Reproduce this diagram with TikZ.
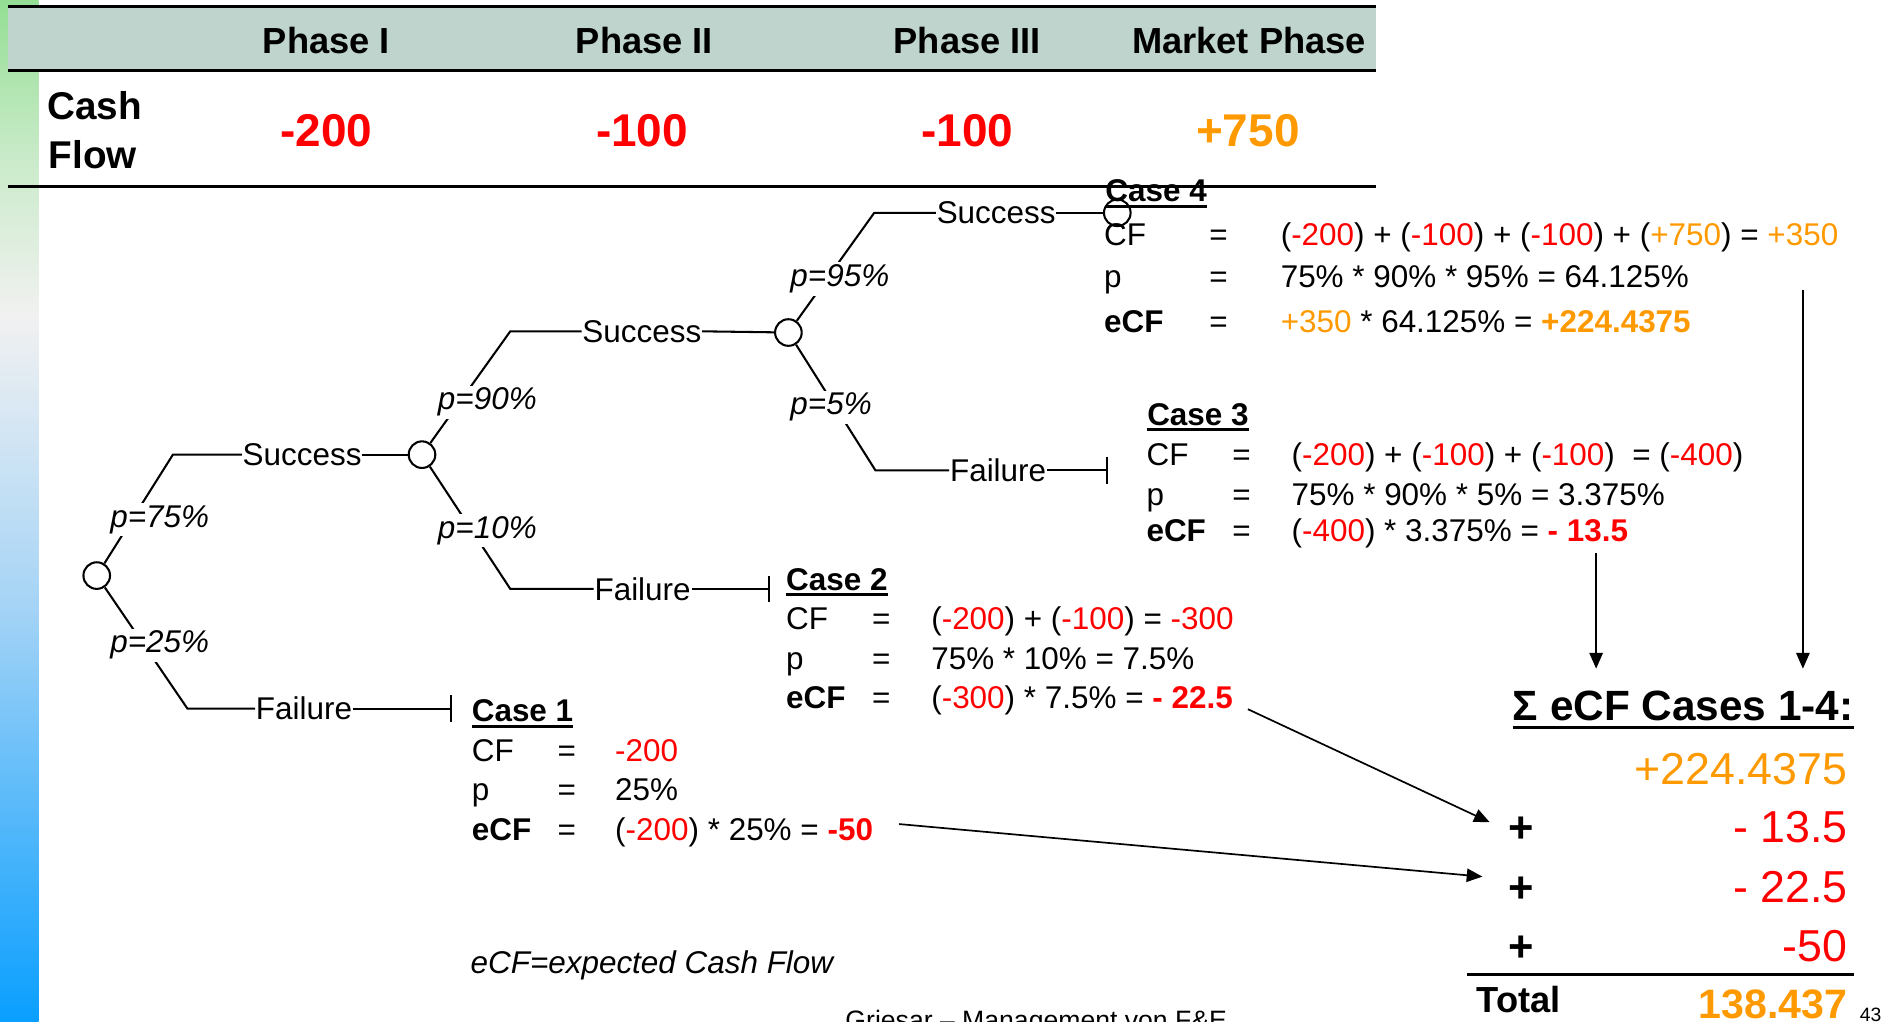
\documentclass[tikz,border=0pt]{standalone}
\usepackage{fontspec}
\setmainfont{Liberation Sans}
\usetikzlibrary{arrows.meta}

\definecolor{cfred}{HTML}{FF0000}
\definecolor{cforange}{HTML}{FF9900}
\definecolor{bandfill}{RGB}{190,212,205}
\definecolor{barA}{HTML}{0A9FFF}
\definecolor{barB}{HTML}{55B8FA}
\definecolor{barC}{HTML}{A6D4F6}
\definecolor{barD}{HTML}{F1F1F1}
\definecolor{barE}{HTML}{CBEBCB}
\definecolor{barF}{HTML}{94DE94}

% TikZ fits the 25bp--75bp band of a shading to the path
\pgfdeclareverticalshading{sidebar}{100bp}{color(0bp)=(barA); color(25bp)=(barA); color(35bp)=(barB); color(45.5bp)=(barC); color(59.5bp)=(barD); color(67bp)=(barE); color(75bp)=(barF); color(100bp)=(barF)}

\newcommand{\fsz}[1]{\fontsize{#1}{#1}\selectfont}
\newcommand{\cred}[1]{\textcolor{cfred}{#1}}
\newcommand{\corg}[1]{\textcolor{cforange}{#1}}

\begin{document}
\begin{tikzpicture}[x=1pt,y=-1pt,
  txt/.style={anchor=base west,inner sep=0pt,font=\fsz{26}},
  btxt/.style={anchor=base west,inner sep=0pt,font=\fsz{26}\bfseries},
  lbl/.style={anchor=west,inner sep=0.5pt,font=\fsz{26}},
  prob/.style={anchor=base west,inner sep=2pt,fill=white,font=\fsz{26}\itshape},
  chance/.style={circle,draw,line width=1.7pt,minimum size=22pt,inner sep=0pt},
  branch/.style={line width=1.7pt},
  endbar/.style={branch,-{Bar[width=22pt]}},
  uline/.style={line width=2.5pt},
  rule/.style={line width=2.5pt},
  sumarrow/.style={line width=1.4pt,-{Triangle[length=13pt,width=11pt]}},
  sumval/.style={anchor=base east,inner sep=0pt,font=\fsz{37}},
  plus/.style={anchor=base west,inner sep=0pt,font=\fsz{36}\bfseries}
]
\useasboundingbox (0,0) rectangle (1568,845);
\clip (0,0) rectangle (1568,845);

% side bar
\shade[shading=sidebar] (0,0) rectangle (32,845);

% phase table
\fill[bandfill] (6.6,5.5) rectangle (1138,58.7);
\draw[rule] (6.6,5.5) -- (1138,5.5);
\draw[rule] (6.6,58.7) -- (1138,58.7);
\draw[rule] (6.6,154.4) -- (1138,154.4);

\node[anchor=base,inner sep=0pt,font=\fsz{30}\bfseries] (ph1) at (270,44) {Phase I};
\node[anchor=base,inner sep=0pt,font=\fsz{30}\bfseries] (ph2) at (533,44) {Phase II};
\node[anchor=base,inner sep=0pt,font=\fsz{30}\bfseries] (ph3) at (800,44) {Phase III};
\node[anchor=base,inner sep=0pt,font=\fsz{30}\bfseries] (ph4) at (1033,44) {Market Phase};

\node[anchor=base west,inner sep=0pt,font=\fsz{32}\bfseries] (cash) at (39,99) {Cash};
\node[anchor=base west,inner sep=0pt,font=\fsz{32}\bfseries] (flow) at (40,139) {Flow};

\node[anchor=base,inner sep=0pt,font=\fsz{38}\bfseries,text=cfred] (cf1) at (270,121.4) {-200};
\node[anchor=base,inner sep=0pt,font=\fsz{38}\bfseries,text=cfred] (cf2) at (531,121.4) {-100};
\node[anchor=base,inner sep=0pt,font=\fsz{38}\bfseries,text=cfred] (cf3) at (800,121.4) {-100};
\node[anchor=base,inner sep=0pt,font=\fsz{38}\bfseries,text=cforange] (cf4) at (1032,121.4) {+750};

% decision tree
\node[chance] (c1) at (80,476) {};
\node[chance] (c2) at (349,376) {};
\node[chance] (c3) at (652,275) {};
\node[chance] (c4) at (924,176) {};

\coordinate (k1u) at (143,376);
\coordinate (k1d) at (155,586);
\coordinate (k2u) at (422,274);
\coordinate (k2d) at (422,487);
\coordinate (k3u) at (723,176);
\coordinate (k3d) at (724,389);
\coordinate (t1) at (373.6,586);
\coordinate (t2) at (637,487);
\coordinate (t3) at (916,389);

\node[lbl] (s1) at (200,376) {Success};
\node[lbl] (f1) at (211,586) {Failure};
\node[lbl] (s2) at (481,274) {Success};
\node[lbl] (f2) at (491,487) {Failure};
\node[lbl] (s3) at (774,176) {Success};
\node[lbl] (f3) at (785,389) {Failure};

\draw[branch] (c1) -- (k1u) -- (s1.west);
\draw[branch] (s1.east) -- (c2);
\draw[branch] (c1) -- (k1d) -- (f1.west);
\draw[endbar] (f1.east) -- (t1);

\draw[branch] (c2) -- (k2u) -- (s2.west);
\draw[branch] (s2.east) -- (c3);
\draw[branch] (c2) -- (k2d) -- (f2.west);
\draw[endbar] (f2.east) -- (t2);

\draw[branch] (c3) -- (k3u) -- (s3.west);
\draw[branch] (s3.east) -- (c4);
\draw[branch] (c3) -- (k3d) -- (f3.west);
\draw[endbar] (f3.east) -- (t3);

\node[prob] (p75) at (89,436) {p=75\%};
\node[prob] (p25) at (89,540) {p=25\%};
\node[prob] (p90) at (360,339) {p=90\%};
\node[prob] (p10) at (360,445) {p=10\%};
\node[prob] (p95) at (651.5,237) {p=95\%};
\node[prob] (p5) at (651.5,343) {p=5\%};

% case 4
\node[btxt] (h4) at (914,167) {Case 4};
\draw[uline] ([yshift=-4pt]h4.base west) -- ([yshift=-4pt]h4.base east);
\node[txt] (r4a) at (913,203) {CF};
\node[txt] (q4a) at (1000,203) {=};
\node[txt] (v4a) at (1059,203) {(\cred{-200}) + (\cred{-100}) + (\cred{-100}) + (\corg{+750}) = \corg{+350}};
\node[txt] (r4b) at (913,238) {p};
\node[txt] (q4b) at (1000,238) {=};
\node[txt] (v4b) at (1059,238) {75\% * 90\% * 95\% = 64.125\%};
\node[btxt] (r4c) at (913,274.6) {eCF};
\node[txt] (q4c) at (1000,274.6) {=};
\node[txt] (v4c) at (1059,274.6) {\corg{+350} * 64.125\% = \corg{\bfseries +224.4375}};

% case 3
\node[btxt] (h3) at (948.6,351.5) {Case 3};
\draw[uline] ([yshift=-4pt]h3.base west) -- ([yshift=-4pt]h3.base east);
\node[txt] (r3a) at (948,384.6) {CF};
\node[txt] (q3a) at (1019,384.6) {=};
\node[txt] (v3a) at (1068,384.6) {(\cred{-200}) + (\cred{-100}) + (\cred{-100})~ = (\cred{-400})};
\node[txt] (r3b) at (948,417.7) {p};
\node[txt] (q3b) at (1019,417.7) {=};
\node[txt] (v3b) at (1068,417.7) {75\% * 90\% * 5\% = 3.375\%};
\node[btxt] (r3c) at (948,448) {eCF};
\node[txt] (q3c) at (1019,448) {=};
\node[txt] (v3c) at (1068,448) {(\cred{-400}) * 3.375\% = \cred{\bfseries - 13.5}};

% case 2
\node[btxt] (h2) at (650,488) {Case 2};
\draw[uline] ([yshift=-4pt]h2.base west) -- ([yshift=-4pt]h2.base east);
\node[txt] (r2a) at (650,521) {CF};
\node[txt] (q2a) at (721,521) {=};
\node[txt] (v2a) at (770,521) {(\cred{-200}) + (\cred{-100}) = \cred{-300}};
\node[txt] (r2b) at (650,554) {p};
\node[txt] (q2b) at (721,554) {=};
\node[txt] (v2b) at (770,554) {75\% * 10\% = 7.5\%};
\node[btxt] (r2c) at (650,585.6) {eCF};
\node[txt] (q2c) at (721,585.6) {=};
\node[txt] (v2c) at (770,585.6) {(\cred{-300}) * 7.5\% = \cred{\bfseries - 22.5}};

% case 1
\node[btxt] (h1) at (390,597) {Case 1};
\draw[uline] ([yshift=-4pt]h1.base west) -- ([yshift=-4pt]h1.base east);
\node[txt] (r1a) at (390,630) {CF};
\node[txt] (q1a) at (461,630) {=};
\node[txt] (v1a) at (508.6,630) {\cred{-200}};
\node[txt] (r1b) at (390,661.6) {p};
\node[txt] (q1b) at (461,661.6) {=};
\node[txt] (v1b) at (508.6,661.6) {25\%};
\node[btxt] (r1c) at (390,694.7) {eCF};
\node[txt] (q1c) at (461,694.7) {=};
\node[txt] (v1c) at (508.6,694.7) {(\cred{-200}) * 25\% = \cred{\bfseries -50}};

\node[anchor=base west,inner sep=0pt,font=\fsz{26}\itshape] (legend) at (389,805) {eCF=expected Cash Flow};

% sum of expected cash flows
\node[anchor=base west,inner sep=0pt,font=\fsz{35}\bfseries] (sumhead) at (1251,595.6) {Σ eCF Cases 1-4:};
\draw[line width=3pt] ([yshift=-6pt]sumhead.base west) -- ([yshift=-6pt]sumhead.base east);

\node[sumval,text=cforange] (sv4) at (1528,649) {+224.4375};
\node[sumval,text=cfred] (sv3) at (1528,697) {- 13.5};
\node[sumval,text=cfred] (sv2) at (1528,746) {- 22.5};
\node[sumval,text=cfred] (sv1) at (1528,795) {-50};
\node[plus] (pl3) at (1247,697) {+};
\node[plus] (pl2) at (1247,746) {+};
\node[plus] (pl1) at (1247,795) {+};

\draw[line width=2.5pt] (1213,805.6) -- (1533,805.6);
\node[anchor=base west,inner sep=0pt,font=\fsz{30}\bfseries] (total) at (1221,837) {Total};
\node[anchor=base east,inner sep=0pt,font=\fsz{34}\bfseries,text=cforange] (totval) at (1528,842) {138.437};

% arrows into the sum
\coordinate (a1s) at (743.5,681.5);
\coordinate (a1e) at (1226,725);
\coordinate (a2s) at (1032,586.5);
\coordinate (a2e) at (1232,680);
\coordinate (a3s) at (1320,457);
\coordinate (a3e) at (1320,553);
\coordinate (a4s) at (1491,240);
\coordinate (a4e) at (1491,553);
\draw[sumarrow] (a1s) -- (a1e);
\draw[sumarrow] (a2s) -- (a2e);
\draw[sumarrow] (a3s) -- (a3e);
\draw[sumarrow] (a4s) -- (a4e);

% footer
\node[anchor=base west,inner sep=0pt,font=\fsz{22}] (footer) at (699,851) {Griesar – Management von F\&E};
\node[anchor=base west,inner sep=0pt,font=\fsz{16}] (pageno) at (1538,845) {43};
\end{tikzpicture}
\end{document}
